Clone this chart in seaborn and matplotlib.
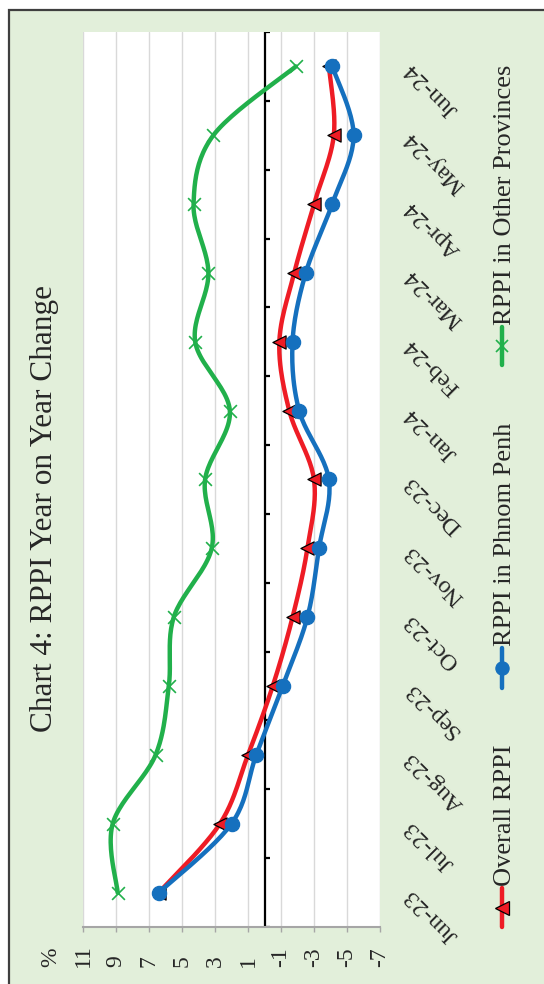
import numpy as np
import pandas as pd
import matplotlib
matplotlib.use("Agg")
import matplotlib.pyplot as plt
import seaborn as sns
from matplotlib.patches import Rectangle
from matplotlib.lines import Line2D

# -----------------------------
# Data (RPPI year-on-year change, %)
# -----------------------------
months = ["Jun-23", "Jul-23", "Aug-23", "Sep-23", "Oct-23", "Nov-23", "Dec-23",
          "Jan-24", "Feb-24", "Mar-24", "Apr-24", "May-24", "Jun-24"]
overall = [6.4, 2.7, 1.0, -0.5, -1.7, -2.6, -3.0, -1.5, -0.9, -1.8, -3.0, -4.2, -3.9]
phnom_penh = [6.4, 2.0, 0.5, -1.1, -2.6, -3.3, -3.9, -2.1, -1.7, -2.5, -4.1, -5.4, -4.1]
other_prov = [8.9, 9.2, 6.6, 5.8, 5.5, 3.2, 3.6, 2.1, 4.2, 3.4, 4.3, 3.1, -1.9]
value_ticks = [11, 9, 7, 5, 3, 1, -1, -3, -5, -7]

series = [
    ("Overall RPPI", overall, "#EE1C25", "<"),
    ("RPPI in Phnom Penh", phnom_penh, "#1570BE", "o"),
    ("RPPI in Other Provinces", other_prov, "#21B04B", "x"),
]


def smooth_curve(vals, steps=24):
    """Catmull-Rom path through the points (like Excel's smoothed line)."""
    p = np.column_stack([np.asarray(vals, float), np.arange(len(vals), dtype=float)])
    p = np.vstack([p[0], p, p[-1]])
    out = []
    for i in range(1, len(p) - 2):
        p0, p1, p2, p3 = p[i - 1], p[i], p[i + 1], p[i + 2]
        t = np.linspace(0, 1, steps, endpoint=False)[:, None]
        seg = 0.5 * ((2 * p1) + (-p0 + p2) * t + (2 * p0 - 5 * p1 + 4 * p2 - p3) * t ** 2
                     + (-p0 + 3 * p1 - 3 * p2 + p3) * t ** 3)
        out.append(seg)
    out.append(p[-2][None, :])
    out = np.vstack(out)
    return out[:, 0], out[:, 1]


# -----------------------------
# Figure (chart drawn rotated 90 degrees, as in the source)
# -----------------------------
sns.set_style("white")
plt.rcParams["font.family"] = ["Liberation Serif", "DejaVu Serif"]

W, H = 544, 984
fig = plt.figure(figsize=(W / 100, H / 100), dpi=100)
fig.patch.set_facecolor("white")
fig.patches.append(Rectangle((9 / W, -0.05), 1.1, 1 - 10 / H + 0.05,
                             transform=fig.transFigure, facecolor="#E2EFDA",
                             edgecolor="#3F3F3F", linewidth=1.6, zorder=-10))

ax = fig.add_axes([83 / W, 1 - 927 / H, (380 - 83) / W, (927 - 32) / H])
ax.set_facecolor("white")

pos = np.arange(len(months))
for i, (name, vals, color, marker) in enumerate(series):
    cx, cy = smooth_curve(vals)
    sns.lineplot(x=cx, y=cy, sort=False, estimator=None, color=color,
                 linewidth=3.2, ax=ax, zorder=3 + i)
    if marker == "x":
        sns.scatterplot(x=vals, y=pos, marker="x", s=85, color=color,
                        linewidth=1.2, ax=ax, zorder=3.5 + i)
    else:
        sns.scatterplot(x=vals, y=pos, marker=marker, s=105 if marker == "o" else 90,
                        color=color, edgecolor=color if marker == "o" else "black",
                        linewidth=0.9, ax=ax, zorder=3.5 + i)

# category axis at 0 with boundary ticks
ax.axvline(0, color="black", linewidth=1.6, zorder=2)
ax.hlines(np.arange(-0.5, len(months)), 0, -0.32, color="black", linewidth=1.6, zorder=2)

ax.set_xlim(11, -7)
ax.set_ylim(-0.5, len(months) - 0.5)
ax.set_xticks(value_ticks)
ax.set_xticklabels([str(v) for v in value_ticks], rotation=90)
ax.tick_params(axis="x", direction="out", length=3.6, width=1, color="#A6A6A6",
               labelsize=17, pad=25, bottom=True)
for lab in ax.get_xticklabels():
    lab.set_va("bottom")
ax.grid(axis="x", color="#D9D9D9", linewidth=1)
ax.grid(axis="y", visible=False)
ax.set_axisbelow(True)
for side in ["top", "left", "right"]:
    ax.spines[side].set_visible(False)
ax.spines["bottom"].set_color("#A6A6A6")
ax.spines["bottom"].set_linewidth(1.5)

ax.set_yticks(pos)
ax.yaxis.tick_right()
ax.set_yticklabels(months)
ax.tick_params(axis="y", length=0, pad=20, labelsize=17.5)
for lab in ax.get_yticklabels():
    lab.set_rotation(135)
    lab.set_rotation_mode("anchor")
    lab.set_ha("right")
    lab.set_va("center")
ax.set_xlabel("")
ax.set_ylabel("")

fig.text(51 / W, 1 - 967 / H, "%", rotation=90, ha="center", va="bottom", fontsize=17)
fig.text(45 / W, 1 - 508 / H, "Chart 4: RPPI Year on Year Change", rotation=90,
         ha="center", va="center", fontsize=22.5, color="#262626")

# legend, drawn rotated
legend_spots = [(888, 927), (648, 688), (327, 365)]
for (name, vals, color, marker), (y0, y1) in zip(series, legend_spots):
    lx = 502 / W
    fig.add_artist(Line2D([lx, lx], [1 - y1 / H, 1 - y0 / H], transform=fig.transFigure,
                          color=color, linewidth=3.2))
    fig.add_artist(Line2D([lx], [1 - (y0 + y1) / 2 / H], transform=fig.transFigure,
                          marker=marker, markersize=9.5 if marker != "x" else 9,
                          color=color, markeredgecolor="black" if marker == "<" else color,
                          markeredgewidth=0.9 if marker != "x" else 1.2, linestyle="none"))
    fig.text(505 / W, 1 - (y0 - 2) / H, name, rotation=90, ha="center", va="bottom",
             fontsize=19, color="#262626")

fig.savefig("out.png", dpi=100)
